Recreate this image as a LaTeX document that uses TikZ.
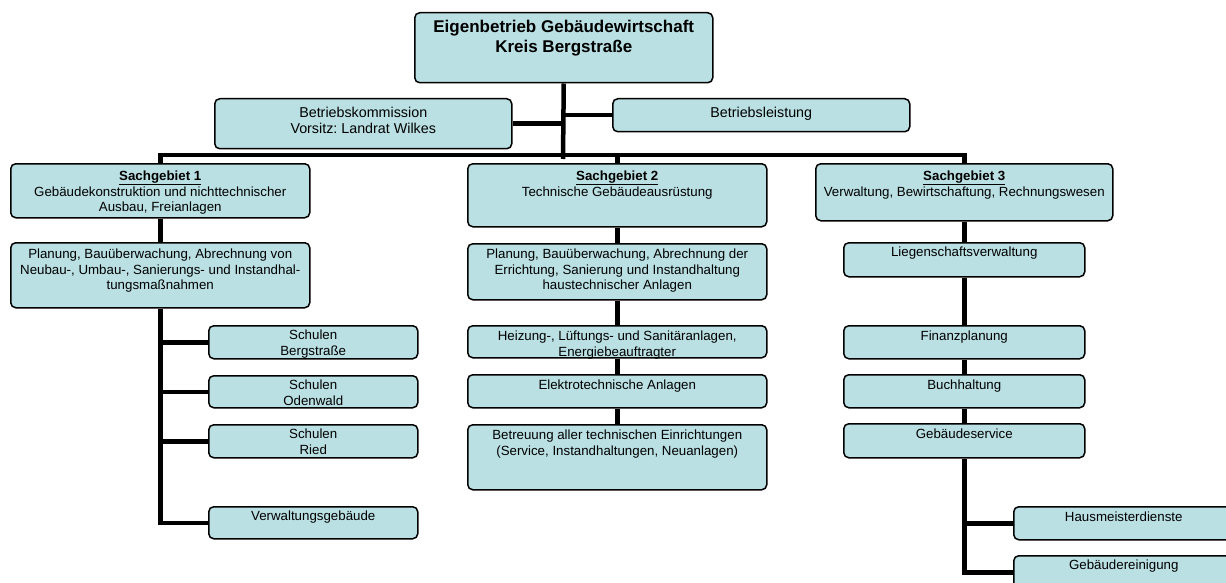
\documentclass[tikz,border=0pt]{standalone}
\usepackage{fontspec}
\setmainfont{Liberation Sans}
\frenchspacing
\usetikzlibrary{backgrounds}
\definecolor{boxfill}{RGB}{186,224,227}
\tikzset{
  orgbox/.style={draw=black, line width=1.5pt, fill=boxfill, rounded corners=5pt, inner sep=0pt, anchor=north west},
  conn/.style={draw=black, line width=4.5pt},
}
\newcommand\OB[8]{%
  \node[orgbox] (#1) at (#2,#3) {\parbox[c][\dimexpr#5pt-#3pt\relax][t]{\dimexpr#4pt-#2pt\relax}{#7\centering\vspace*{#6pt}#8\par}};%
}
\newcommand\FsN{\fontsize{13.3}{15.8}\selectfont}
\newcommand\FsK{\fontsize{14.3}{16.8}\selectfont}
\newcommand\FsT{\fontsize{17}{20.5}\selectfont\bfseries}
\newcommand\SG[1]{\underline{\textbf{#1}}}
\begin{document}
\begin{tikzpicture}[x=1pt,y=-1pt]
\useasboundingbox (0,0) rectangle (1226,583);
\clip (0,0) rectangle (1226,583);
% top level
\OB{top}{414}{12}{712}{82}{7}{\FsT}{Eigenbetrieb Gebäudewirtschaft\\Kreis Bergstraße}
\OB{komm}{214}{98}{511}{148}{8}{\FsK}{Betriebskommission\\Vorsitz: Landrat Wilkes}
\OB{leist}{612}{98}{909}{131}{8}{\FsK}{Betriebsleistung}
% Sachgebiet 1
\OB{sg1}{10}{163}{309}{217}{7}{\FsN}{\SG{Sachgebiet 1}\\Gebäudekonstruktion und nichttechnischer\\Ausbau, Freianlagen}
\OB{pl1}{10}{242}{309}{307}{6}{\FsN}{Planung, Bauüberwachung, Abrechnung von\\Neubau-, Umbau-, Sanierungs- und Instandhal-\\tungsmaßnahmen}
\OB{sb}{208}{325}{417}{358}{4}{\FsN}{Schulen\\Bergstraße}
\OB{so}{208}{375}{417}{407}{4}{\FsN}{Schulen\\Odenwald}
\OB{sr}{208}{424}{417}{457}{4}{\FsN}{Schulen\\Ried}
\OB{vg}{208}{506}{417}{538}{4}{\FsN}{Verwaltungsgebäude}
% Sachgebiet 2
\OB{sg2}{467}{163}{766}{226}{7}{\FsN}{\SG{Sachgebiet 2}\\Technische Gebäudeausrüstung}
\OB{pl2}{467}{243}{766}{299}{5}{\FsN}{Planung, Bauüberwachung, Abrechnung der\\Errichtung, Sanierung und Instandhaltung\\haustechnischer Anlagen}
\OB{hz}{467}{325}{766}{357}{5}{\FsN}{Heizung-, Lüftungs- und Sanitäranlagen,\\Energiebeauftragter}
\OB{el}{467}{374}{766}{407}{5}{\FsN}{Elektrotechnische Anlagen}
\OB{bt}{467}{424}{766}{489}{5}{\FsN}{Betreuung aller technischen Einrichtungen\\(Service, Instandhaltungen, Neuanlagen)}
% Sachgebiet 3
\OB{sg3}{815}{163}{1112}{220}{7}{\FsN}{\SG{Sachgebiet 3}\\Verwaltung, Bewirtschaftung, Rechnungswesen}
\OB{lv}{843}{242}{1084}{276}{4}{\FsN}{Liegenschaftsverwaltung}
\OB{fp}{843}{325}{1084}{358}{5}{\FsN}{Finanzplanung}
\OB{bh}{843}{374}{1084}{407}{5}{\FsN}{Buchhaltung}
\OB{gs}{843}{423}{1084}{457}{5}{\FsN}{Gebäudeservice}
\OB{hm}{1013}{506}{1233}{539}{5}{\FsN}{Hausmeisterdienste}
\OB{gr}{1013}{555}{1233}{588}{4}{\FsN}{Gebäudereinigung}
\coordinate (hub) at (563,155);
\begin{scope}[on background layer]
  \draw[conn] (top.south) -- ([yshift=-4pt]hub);
  \draw[conn] (komm.east) -- (komm.east -| hub);
  \draw[conn] (leist.west) -- (leist.west -| hub);
  \draw[conn] (sg1.north) |- (hub) -| (sg3.north);
  \draw[conn] (sg2.north) -- (sg2.north |- hub);
  % left column
  \draw[conn] (sg1.south) -- (pl1.north);
  \draw[conn] (pl1.south) |- (vg.west);
  \foreach \c in {sb,so,sr} \draw[conn] (\c.west) -- (\c.west -| pl1.south);
  % middle column
  \draw[conn] (sg2.south) -- (pl2.north);
  \draw[conn] (pl2.south) -- (hz.north);
  \draw[conn] (hz.south) -- (el.north);
  \draw[conn] (el.south) -- (bt.north);
  % right column
  \draw[conn] (sg3.south) -- (lv.north);
  \draw[conn] (lv.south) -- (fp.north);
  \draw[conn] (fp.south) -- (bh.north);
  \draw[conn] (bh.south) -- (gs.north);
  \draw[conn] (gs.south) |- (gr.west);
  \draw[conn] (hm.west) -- (hm.west -| gs.south);
\end{scope}
\end{tikzpicture}
\end{document}
